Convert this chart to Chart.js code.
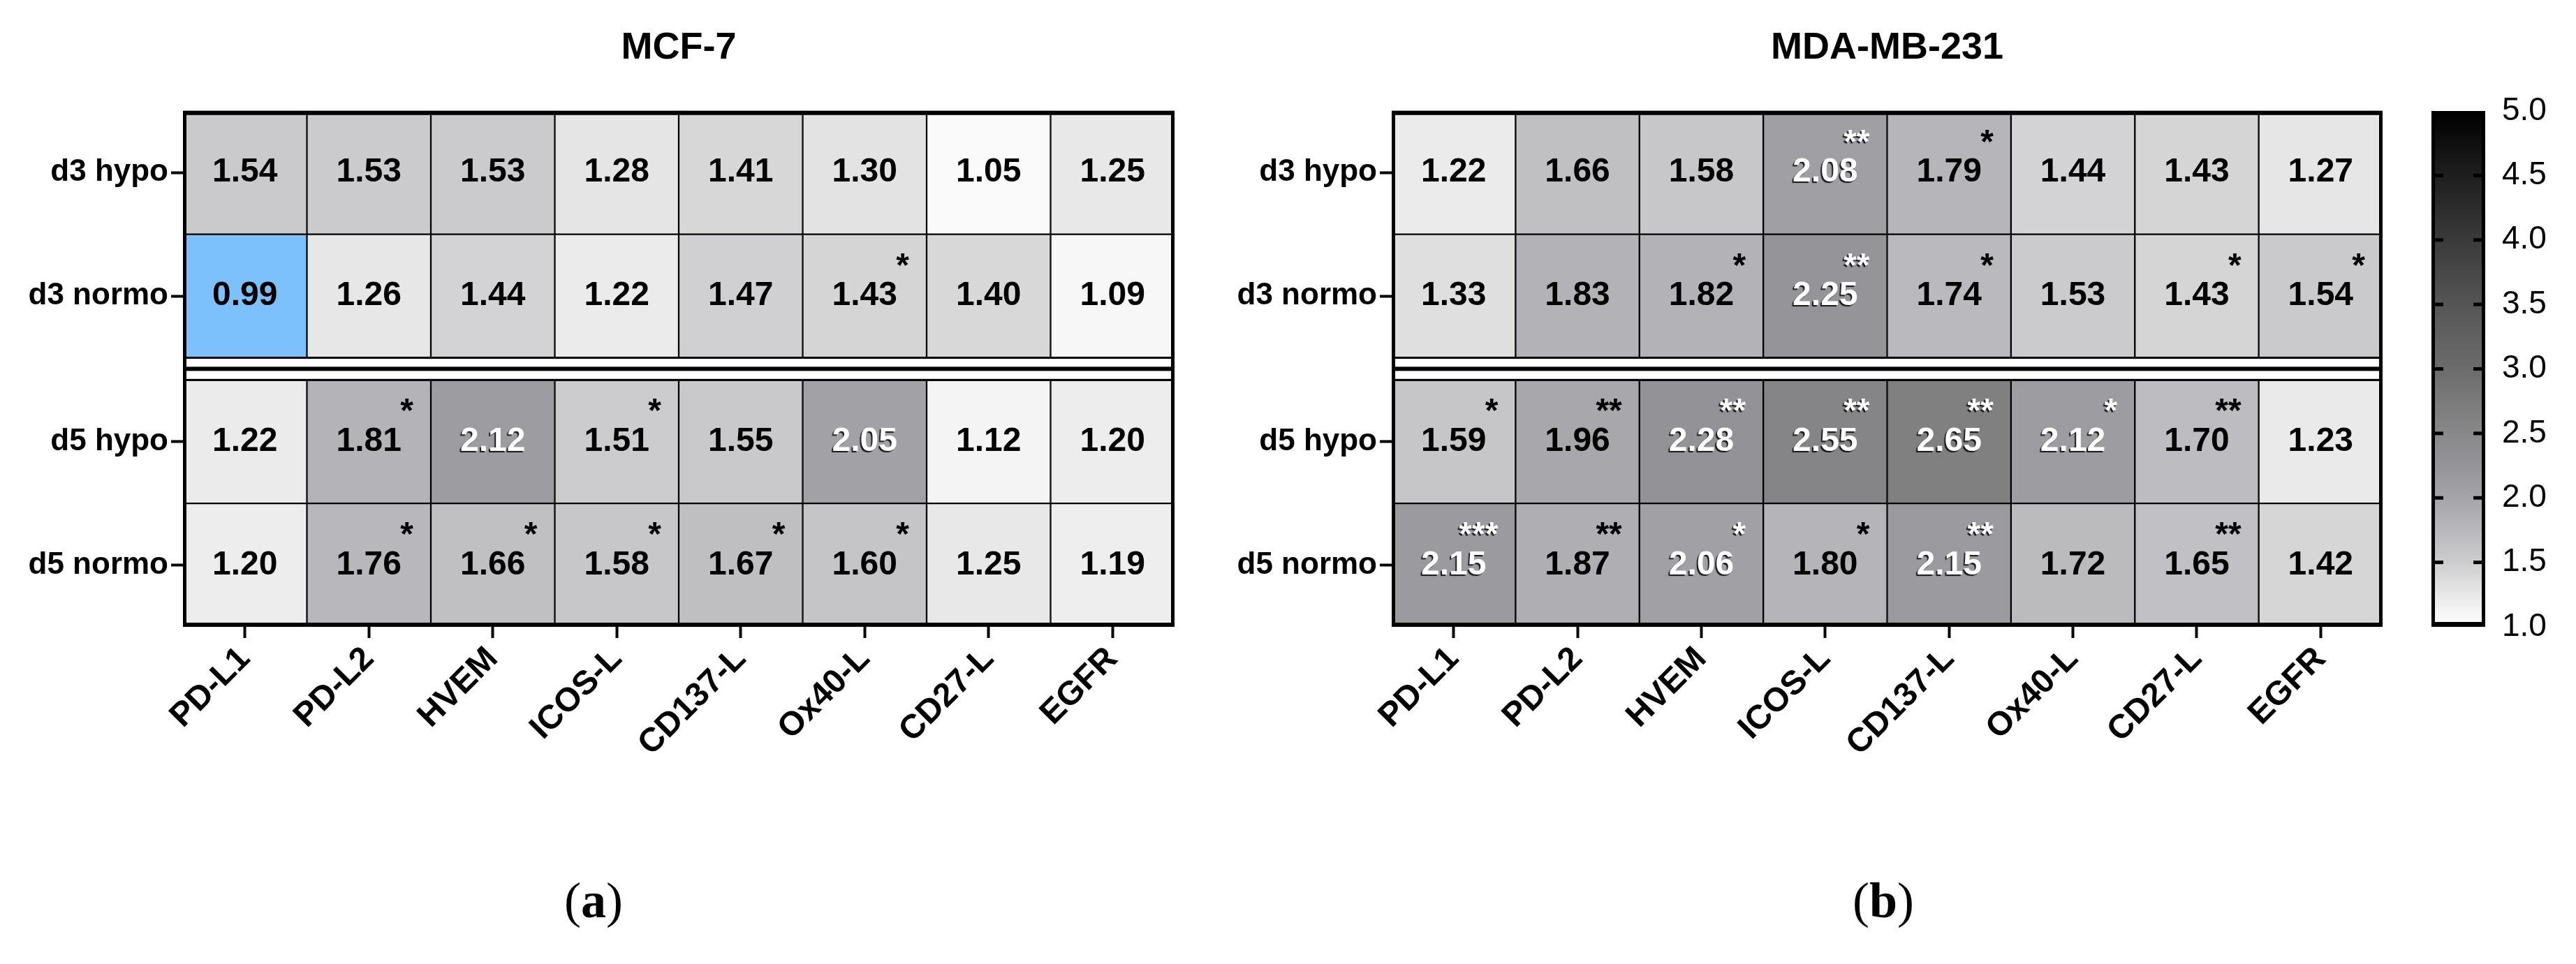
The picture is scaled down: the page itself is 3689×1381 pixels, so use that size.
<!DOCTYPE html>
<html><head><meta charset="utf-8">
<script src="https://cdn.jsdelivr.net/npm/chart.js@4"></script>
<style>
html,body{margin:0;padding:0;background:#fff;width:3689px;height:1381px;overflow:hidden;}
canvas{position:absolute;top:0;}
</style></head><body>
<canvas id="c1" width="1710" height="1381" style="left:0px"></canvas>
<canvas id="c2" width="1690" height="1381" style="left:1750px"></canvas>
<canvas id="c3" width="249" height="1381" style="left:3440px"></canvas>
<script>
// ---------------- DATA ----------------
const markers = ['PD-L1','PD-L2','HVEM','ICOS-L','CD137-L','Ox40-L','CD27-L','EGFR'];
const conditions = ['d3 hypo','d3 normo','d5 hypo','d5 normo'];

const mcf7_d3_hypo  = [1.54,1.53,1.53,1.28,1.41,1.30,1.05,1.25];
const mcf7_d3_normo = [0.99,1.26,1.44,1.22,1.47,1.43,1.40,1.09];
const mcf7_d5_hypo  = [1.22,1.81,2.12,1.51,1.55,2.05,1.12,1.20];
const mcf7_d5_normo = [1.20,1.76,1.66,1.58,1.67,1.60,1.25,1.19];
const mcf7_sig_d3_hypo  = ['','','','','','','',''];
const mcf7_sig_d3_normo = ['','','','','','*','',''];
const mcf7_sig_d5_hypo  = ['','*','','*','','','',''];
const mcf7_sig_d5_normo = ['','*','*','*','*','*','',''];

const mda_d3_hypo  = [1.22,1.66,1.58,2.08,1.79,1.44,1.43,1.27];
const mda_d3_normo = [1.33,1.83,1.82,2.25,1.74,1.53,1.43,1.54];
const mda_d5_hypo  = [1.59,1.96,2.28,2.55,2.65,2.12,1.70,1.23];
const mda_d5_normo = [2.15,1.87,2.06,1.80,2.15,1.72,1.65,1.42];
const mda_sig_d3_hypo  = ['','','','**','*','','',''];
const mda_sig_d3_normo = ['','','*','**','*','','*','*'];
const mda_sig_d5_hypo  = ['*','**','**','**','**','*','**',''];
const mda_sig_d5_normo = ['***','**','*','*','**','','**',''];

const scaleMin = 1.0, scaleMax = 5.0, scaleStep = 0.5;

// ---------------- STYLE ----------------
Chart.defaults.font.family = "'Liberation Sans', Arial, sans-serif";
Chart.defaults.color = '#000';
const GAP = 0.18;
const rowStart = i => i + (i >= 2 ? GAP : 0);
const cmap = [
  [1.00,[255,255,255]],[1.25,[232,232,232]],[1.50,[205,205,207]],[1.75,[185,184,188]],
  [2.00,[165,164,169]],[2.25,[149,148,153]],[2.50,[136,136,138]],[2.75,[122,122,122]],
  [3.00,[108,108,108]],[3.50,[85,85,85]],[4.00,[58,58,58]],[4.50,[30,30,30]],[5.00,[0,0,0]]
];
function valColor(v){
  if (v < scaleMin) return 'rgb(124,192,252)';
  if (v >= scaleMax) return 'rgb(0,0,0)';
  for (let k=0;k<cmap.length-1;k++){
    const [a,ca]=cmap[k],[b,cb]=cmap[k+1];
    if (v>=a && v<=b){
      const t=(v-a)/(b-a);
      const c=ca.map((x,n)=>Math.round(x+(cb[n]-x)*t));
      return `rgb(${c[0]},${c[1]},${c[2]})`;
    }
  }
  return '#fff';
}

const heatPlugin = {
  id: 'heatText',
  afterDatasetsDraw(chart) {
    const {ctx, chartArea: a} = chart;
    const yS = chart.scales.y;
    const g0 = yS.getPixelForValue(2), g1 = yS.getPixelForValue(2 + GAP);
    const gm = (g0 + g1) / 2;
    ctx.save();
    ctx.fillStyle = '#fff';
    ctx.fillRect(a.left, Math.min(g0,g1), a.width, Math.abs(g1-g0));
    ctx.fillStyle = '#000';
    ctx.fillRect(a.left, gm - 3, a.width, 6);
    ctx.fillRect(a.left, Math.min(g0,g1)-1.5, a.width, 3);
    ctx.fillRect(a.left, Math.max(g0,g1)-1.5, a.width, 3);
    chart.data.datasets.forEach((ds, di) => {
      const meta = chart.getDatasetMeta(di);
      meta.data.forEach((el, j) => {
        const v = ds.values[j], s = ds.sig[j];
        const top = Math.min(el.y, el.base), bot = Math.max(el.y, el.base);
        const cx = el.x, cy = (top + bot) / 2, right = el.x + el.width / 2;
        const light = v >= 2.0;
        ctx.font = 'bold 48px "Liberation Sans", Arial, sans-serif';
        if (light) {
          ctx.shadowColor = 'rgba(0,0,0,0.85)'; ctx.shadowOffsetX = -2; ctx.shadowOffsetY = 2; ctx.shadowBlur = 1;
          ctx.fillStyle = '#fff';
        } else {
          ctx.shadowColor = 'rgba(0,0,0,0)'; ctx.shadowOffsetX = 0; ctx.shadowOffsetY = 0; ctx.shadowBlur = 0;
          ctx.fillStyle = '#000';
        }
        ctx.textAlign = 'center'; ctx.textBaseline = 'middle';
        ctx.fillText(v.toFixed(2), cx, cy);
        if (s) {
          ctx.textAlign = 'right'; ctx.textBaseline = 'alphabetic';
          ctx.fillText(s, right - 25, top + 60);
        }
      });
    });
    ctx.shadowColor = 'rgba(0,0,0,0)'; ctx.shadowOffsetX = 0; ctx.shadowOffsetY = 0; ctx.shadowBlur = 0;
    ctx.lineWidth = 5; ctx.strokeStyle = '#000';
    ctx.strokeRect(a.left + 2.5, a.top + 2.5, a.width - 5, a.height - 5);
    ctx.fillRect(a.left, a.top, a.width, 6);
    ctx.fillRect(a.left, a.bottom - 6, a.width, 6);
    ctx.restore();
  }
};

const captionPlugin = {
  id: 'caption',
  afterDraw(chart, args, o) {
    if (!o || !o.letter) return;
    const ctx = chart.ctx;
    ctx.save();
    const fN = '72px "Liberation Serif", "Times New Roman", serif';
    const fB = 'bold 72px "Liberation Serif", "Times New Roman", serif';
    const parts = [['(', fN], [o.letter, fB], [')', fN]];
    let total = 0;
    parts.forEach(p => { ctx.font = p[1]; total += ctx.measureText(p[0]).width; });
    let x = o.x - total / 2;
    ctx.textBaseline = 'middle'; ctx.textAlign = 'left'; ctx.fillStyle = '#000';
    parts.forEach(p => { ctx.font = p[1]; ctx.fillText(p[0], x, o.y); x += ctx.measureText(p[0]).width; });
    ctx.restore();
  }
};

function heatChart(id, title, rows, sigs, yAxisWidth, padRight, letter, capX) {
  const datasets = rows.map((vals, i) => ({
    label: conditions[i],
    data: vals.map(() => [rowStart(i), rowStart(i) + 1]),
    values: vals,
    sig: sigs[i],
    backgroundColor: vals.map(valColor),
    borderColor: '#000',
    borderWidth: 1.5,
    borderSkipped: false,
    barPercentage: 1,
    categoryPercentage: 1,
    grouped: false
  }));
  return new Chart(document.getElementById(id), {
    type: 'bar',
    data: { labels: markers, datasets },
    options: {
      responsive: false, animation: false, devicePixelRatio: 1,
      layout: { padding: { left: 0, right: padRight, top: 0, bottom: 0 } },
      plugins: {
        legend: { display: false },
        tooltip: { enabled: false },
        title: { display: true, text: title, fullSize: false, color: '#000',
                 font: { size: 54, weight: 'bold' }, padding: { top: 37, bottom: 57 } },
        caption: { letter, x: capX, y: 1295 }
      },
      scales: {
        x: {
          type: 'category',
          ticks: { font: { size: 48, weight: 'bold' }, color: '#000', maxRotation: 45, minRotation: 45, autoSkip: false, padding: 2 },
          grid: { offset: false, drawOnChartArea: false, tickLength: 16, tickWidth: 4, tickColor: '#000' },
          border: { display: false },
          afterFit: s => { s.height = 483; }
        },
        y: {
          type: 'linear', reverse: true, min: 0, max: rowStart(conditions.length - 1) + 1,
          afterBuildTicks: s => { s.ticks = conditions.map((c, i) => ({ value: rowStart(i) + 0.5 })); },
          ticks: { callback: (v, i) => conditions[i], font: { size: 44, weight: 'bold' }, color: '#000', padding: 4, autoSkip: false },
          grid: { drawOnChartArea: false, tickLength: 17, tickWidth: 4, tickColor: '#000' },
          border: { display: false },
          afterFit: s => { s.width = yAxisWidth; }
        }
      }
    },
    plugins: [heatPlugin, captionPlugin]
  });
}

heatChart('c1', 'MCF-7',
  [mcf7_d3_hypo, mcf7_d3_normo, mcf7_d5_hypo, mcf7_d5_normo],
  [mcf7_sig_d3_hypo, mcf7_sig_d3_normo, mcf7_sig_d5_hypo, mcf7_sig_d5_normo],
  262, 28, 'a', 850);
heatChart('c2', 'MDA-MB-231',
  [mda_d3_hypo, mda_d3_normo, mda_d5_hypo, mda_d5_normo],
  [mda_sig_d3_hypo, mda_sig_d3_normo, mda_sig_d5_hypo, mda_sig_d5_normo],
  243, 28, 'b', 947);

// ---------------- COLOR BAR ----------------
const cbPlugin = {
  id: 'cbFrame',
  afterDatasetsDraw(chart) {
    const {ctx, chartArea: a} = chart;
    const s = chart.scales.y;
    ctx.save();
    ctx.fillStyle = '#000';
    s.ticks.forEach(t => {
      if (t.value > scaleMin && t.value < scaleMax) {
        const y = s.getPixelForValue(t.value);
        ctx.fillRect(a.left, y - 2.5, 17, 5);
        ctx.fillRect(a.right - 17, y - 2.5, 17, 5);
      }
    });
    ctx.lineWidth = 5; ctx.strokeStyle = '#000';
    ctx.strokeRect(a.left + 2.5, a.top + 2.5, a.width - 5, a.height - 5);
    ctx.fillRect(a.left, a.bottom - 7, a.width, 7);
    ctx.restore();
  }
};
new Chart(document.getElementById('c3'), {
  type: 'bar',
  data: { labels: [''], datasets: [{
    data: [[scaleMin, scaleMax]],
    backgroundColor: (c) => {
      const area = c.chart.chartArea;
      if (!area) return '#888';
      const g = c.chart.ctx.createLinearGradient(0, area.bottom, 0, area.top);
      cmap.forEach(([v, col]) => g.addColorStop((v - scaleMin) / (scaleMax - scaleMin), `rgb(${col[0]},${col[1]},${col[2]})`));
      return g;
    },
    borderWidth: 0, barPercentage: 1, categoryPercentage: 1
  }]},
  options: {
    responsive: false, animation: false, devicePixelRatio: 1,
    layout: { padding: { left: 42, right: 0, top: 159, bottom: 483 } },
    plugins: { legend: { display: false }, tooltip: { enabled: false } },
    scales: {
      x: { display: false },
      y: {
        position: 'right', min: scaleMin, max: scaleMax,
        ticks: { stepSize: scaleStep, callback: v => Number(v).toFixed(1), font: { size: 46 }, color: '#000', padding: 24 },
        grid: { display: false, drawTicks: false },
        border: { display: false },
        afterFit: s => { s.width = 130; }
      }
    }
  },
  plugins: [cbPlugin]
});
</script>
</body></html>
